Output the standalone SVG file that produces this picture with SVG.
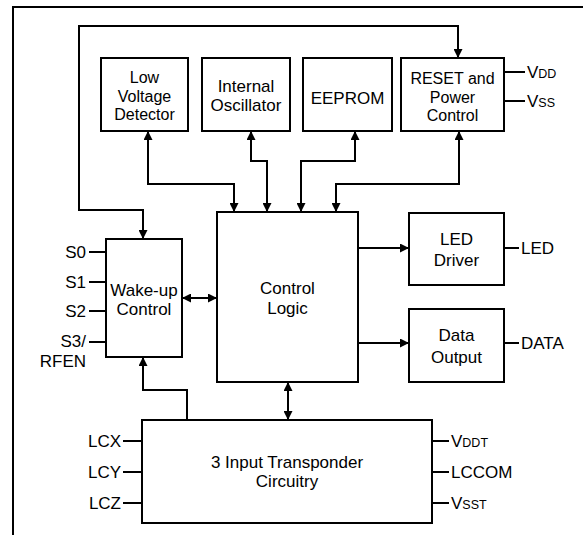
<svg xmlns="http://www.w3.org/2000/svg" width="583" height="535" viewBox="0 0 583 535">
<defs>
<style>
.box{fill:#fff;stroke:#000;stroke-width:2}
.ln{fill:none;stroke:#000;stroke-width:2}
.t{font-family:"Liberation Sans",Arial,sans-serif;font-size:17px;fill:#000}
.t3{font-size:16px}
.c{text-anchor:middle}
.r{text-anchor:end}
.s{font-size:12.5px}
</style>
<marker id="ah" viewBox="0 0 10 10" refX="10" refY="5" markerWidth="9" markerHeight="9" markerUnits="userSpaceOnUse" orient="auto-start-reverse">
<path d="M0,0 L10,5 L0,10 z" fill="#000"/>
</marker>
</defs>
<rect width="583" height="535" fill="#fff"/>
<path class="ln" d="M13,535 V7 H583"/>

<g id="connectors">
<path class="ln" d="M143,239 V210 H79 V26 H458 V58" marker-start="url(#ah)" marker-end="url(#ah)"/>
<path class="ln" d="M148,131 V184 H234 V212" marker-start="url(#ah)" marker-end="url(#ah)"/>
<path class="ln" d="M251,131 V161 H267 V212" marker-start="url(#ah)" marker-end="url(#ah)"/>
<path class="ln" d="M355,131 V161 H301 V212" marker-start="url(#ah)" marker-end="url(#ah)"/>
<path class="ln" d="M459,131 V184 H336 V212" marker-start="url(#ah)" marker-end="url(#ah)"/>
<path class="ln" d="M182,298 H217" marker-start="url(#ah)" marker-end="url(#ah)"/>
<path class="ln" d="M358,248 H409" marker-end="url(#ah)"/>
<path class="ln" d="M358,343 H409" marker-end="url(#ah)"/>
<path class="ln" d="M288,382 V420" marker-start="url(#ah)" marker-end="url(#ah)"/>
<path class="ln" d="M187,420 V390 H143 V357" marker-end="url(#ah)"/>
<path class="ln" d="M504,72 H525 M504,101 H525"/>
<path class="ln" d="M504,248 H519 M504,343 H519"/>
<path class="ln" d="M89,252 H106 M89,282 H106 M89,311 H106 M89,342 H106"/>
<path class="ln" d="M123,441 H142 M123,472 H142 M123,503 H142"/>
<path class="ln" d="M432,441 H449 M432,472 H449 M432,503 H449"/>
</g>

<g id="lvd">
<rect class="box" x="101" y="58" width="87" height="73"/>
<text class="t t3 c" x="144.5" y="83">Low</text>
<text class="t t3 c" x="144.5" y="101.5">Voltage</text>
<text class="t t3 c" x="144.5" y="120">Detector</text>
</g>
<g id="osc">
<rect class="box" x="202" y="58" width="88" height="73"/>
<text class="t c" x="246" y="92">Internal</text>
<text class="t c" x="246" y="111">Oscillator</text>
</g>
<g id="eeprom">
<rect class="box" x="303" y="58" width="89" height="73"/>
<text class="t c" x="347.5" y="104">EEPROM</text>
</g>
<g id="reset">
<rect class="box" x="401" y="58" width="103" height="73"/>
<text class="t t3 c" x="452.5" y="84">RESET and</text>
<text class="t t3 c" x="452.5" y="102.5">Power</text>
<text class="t t3 c" x="452.5" y="121">Control</text>
<text class="t" x="527" y="78">V<tspan class="s">DD</tspan></text>
<text class="t" x="527" y="107">V<tspan class="s">SS</tspan></text>
</g>
<g id="wakeup">
<rect class="box" x="106" y="239" width="76" height="118"/>
<text class="t c" x="144" y="296">Wake-up</text>
<text class="t c" x="144" y="315">Control</text>
<text class="t r" x="86" y="258">S0</text>
<text class="t r" x="86" y="288">S1</text>
<text class="t r" x="86" y="317">S2</text>
<text class="t r" x="86" y="347">S3/</text>
<text class="t r" x="86" y="367">RFEN</text>
</g>
<g id="control">
<rect class="box" x="217" y="212" width="141" height="170"/>
<text class="t c" x="287.5" y="294">Control</text>
<text class="t c" x="287.5" y="314">Logic</text>
</g>
<g id="led">
<rect class="box" x="409" y="213" width="95" height="72"/>
<text class="t c" x="456.5" y="245">LED</text>
<text class="t c" x="456.5" y="266">Driver</text>
<text class="t" x="521" y="254">LED</text>
</g>
<g id="data">
<rect class="box" x="409" y="309" width="95" height="73"/>
<text class="t c" x="456.5" y="341">Data</text>
<text class="t c" x="456.5" y="363">Output</text>
<text class="t" x="521" y="349">DATA</text>
</g>
<g id="transponder">
<rect class="box" x="142" y="420" width="290" height="103"/>
<text class="t c" x="287" y="468">3 Input Transponder</text>
<text class="t c" x="287" y="487">Circuitry</text>
<text class="t r" x="121" y="447">LCX</text>
<text class="t r" x="121" y="478">LCY</text>
<text class="t r" x="121" y="509">LCZ</text>
<text class="t" x="451" y="447">V<tspan class="s">DDT</tspan></text>
<text class="t" x="451" y="478">LCCOM</text>
<text class="t" x="451" y="509">V<tspan class="s">SST</tspan></text>
</g>
</svg>
